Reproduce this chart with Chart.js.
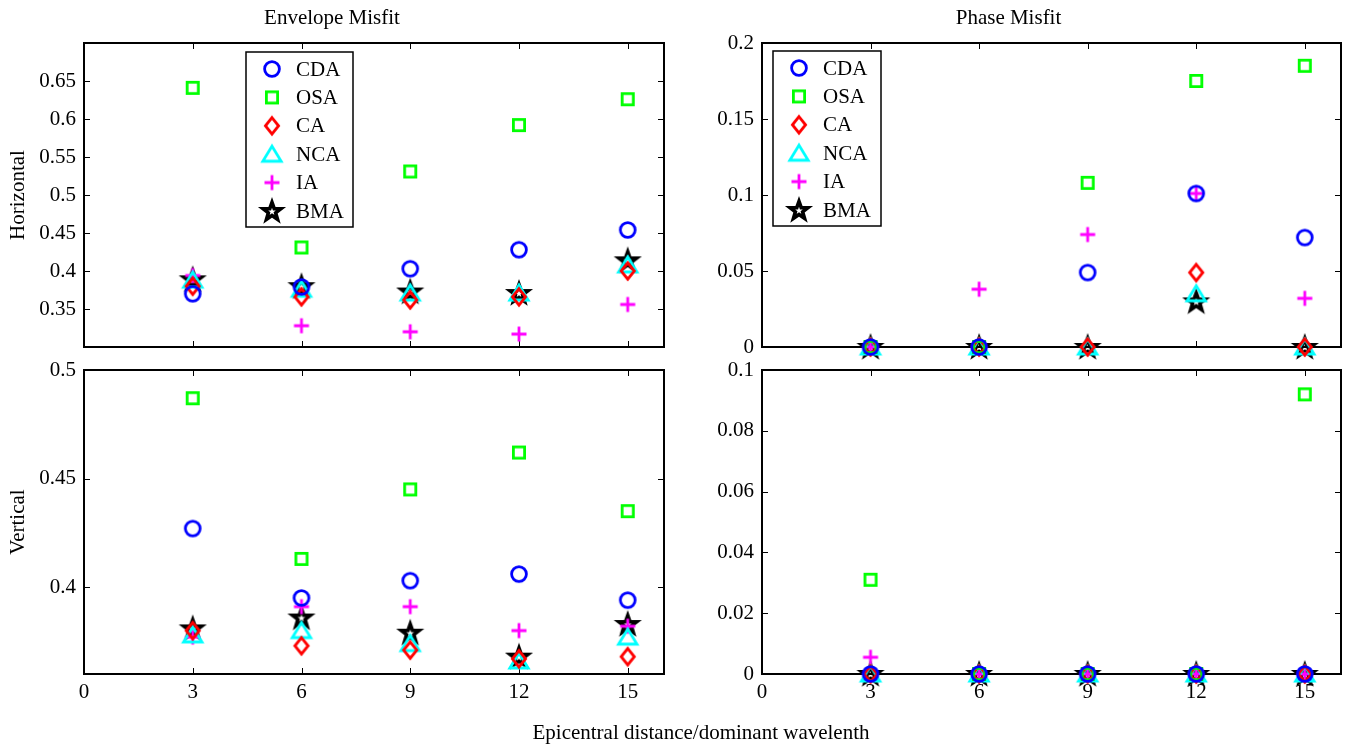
<!DOCTYPE html>
<html>
<head>
<meta charset="utf-8">
<script src="https://cdn.jsdelivr.net/npm/chart.js@4.4.0/dist/chart.umd.min.js"></script>
<style>
  body { margin: 0; background: #fff; width: 1350px; height: 749px; position: relative; overflow: hidden; }
  canvas { position: absolute; }
  #xlabel { position: absolute; left: 401px; width: 600px; top: 720px; text-align: center;
            font: 21px "Liberation Serif", serif; line-height: 24px; color: #000; }
</style>
</head>
<body>
<canvas id="envH" width="675" height="360" style="left:0;top:0"></canvas>
<canvas id="phaseH" width="675" height="360" style="left:675px;top:0"></canvas>
<canvas id="envV" width="675" height="389" style="left:0;top:360px"></canvas>
<canvas id="phaseV" width="675" height="389" style="left:675px;top:360px"></canvas>
<div id="xlabel">Epicentral distance/dominant wavelenth</div>
<script>
// data
const methods = ["CDA", "OSA", "CA", "NCA", "IA", "BMA"];
const xValues = [3, 6, 9, 12, 15];
const xTicks = [0, 3, 6, 9, 12, 15];

// envelope misfit, horizontal
const envH_CDA = [0.370, 0.379, 0.403, 0.428, 0.454];
const envH_OSA = [0.641, 0.431, 0.531, 0.592, 0.626];
const envH_CA = [0.380, 0.366, 0.362, 0.366, 0.400];
const envH_NCA = [0.388, 0.376, 0.371, 0.371, 0.408];
const envH_IA = [0.394, 0.328, 0.320, 0.317, 0.356];
const envH_BMA = [0.389, 0.380, 0.373, 0.371, 0.414];
const envH_yTicks = [0.35, 0.4, 0.45, 0.5, 0.55, 0.6, 0.65];

// phase misfit, horizontal
const phaseH_CDA = [0, 0, 0.049, 0.101, 0.072];
const phaseH_OSA = [0, 0, 0.108, 0.175, 0.185];
const phaseH_CA = [0, 0, 0, 0.049, 0];
const phaseH_NCA = [0, 0, 0, 0.035, 0];
const phaseH_IA = [0, 0.038, 0.074, 0.101, 0.032];
const phaseH_BMA = [0, 0, 0, 0.030, 0];
const phaseH_yTicks = [0, 0.05, 0.1, 0.15, 0.2];

// envelope misfit, vertical
const envV_CDA = [0.427, 0.395, 0.403, 0.406, 0.394];
const envV_OSA = [0.487, 0.413, 0.445, 0.462, 0.435];
const envV_CA = [0.380, 0.373, 0.371, 0.367, 0.368];
const envV_NCA = [0.378, 0.380, 0.374, 0.366, 0.377];
const envV_IA = [0.377, 0.391, 0.391, 0.380, 0.382];
const envV_BMA = [0.381, 0.386, 0.379, 0.368, 0.383];
const envV_yTicks = [0.4, 0.45, 0.5];

// phase misfit, vertical
const phaseV_CDA = [0, 0, 0, 0, 0];
const phaseV_OSA = [0.031, 0, 0, 0, 0.092];
const phaseV_CA = [0, 0, 0, 0, 0];
const phaseV_NCA = [0, 0, 0, 0, 0];
const phaseV_IA = [0.0055, 0, 0, 0, 0];
const phaseV_BMA = [0, 0, 0, 0, 0];
const phaseV_yTicks = [0, 0.02, 0.04, 0.06, 0.08, 0.1];

const FONT = '"Liberation Serif", "Times New Roman", serif';

// matlab style marker images
function marker(shape, color) {
  const c = document.createElement("canvas");
  c.width = 30; c.height = 30;
  const g = c.getContext("2d");
  const m = 15;
  g.strokeStyle = color;
  g.lineWidth = 2.8;
  g.miterLimit = 4;
  g.beginPath();
  if (shape === "circle") {
    g.arc(m, m, 7.4, 0, Math.PI * 2);
  } else if (shape === "square") {
    g.rect(m - 5.6, m - 5.6, 11.2, 11.2);
  } else if (shape === "diamond") {
    g.moveTo(m, m - 8.2); g.lineTo(m + 6.6, m); g.lineTo(m, m + 8.2); g.lineTo(m - 6.6, m); g.closePath();
  } else if (shape === "triangle") {
    g.moveTo(m, m - 8); g.lineTo(m + 9.2, m + 7); g.lineTo(m - 9.2, m + 7); g.closePath();
  } else if (shape === "plus") {
    g.moveTo(m - 7.5, m); g.lineTo(m + 7.5, m); g.moveTo(m, m - 7.5); g.lineTo(m, m + 7.5);
  } else if (shape === "star") {
    g.lineWidth = 3.6;
    for (let i = 0; i < 10; i++) {
      const r = i % 2 ? 3.8 : 9.4;
      const a = -Math.PI / 2 + i * Math.PI / 5;
      const px = m + r * Math.cos(a), py = m + 0.7 + r * Math.sin(a);
      if (i === 0) g.moveTo(px, py); else g.lineTo(px, py);
    }
    g.closePath();
  }
  g.stroke();
  return c;
}

const markers = [
  marker("circle", "#0000ff"),
  marker("square", "#00ff00"),
  marker("diamond", "#ff0000"),
  marker("triangle", "#00ffff"),
  marker("plus", "#ff00ff"),
  marker("star", "#000000"),
];

// box with inward ticks on all four sides
const matlabFrame = {
  id: "matlabFrame",
  beforeDatasetsDraw(chart) {
    const { ctx, chartArea: a, scales } = chart;
    const L = 6;
    ctx.save();
    ctx.strokeStyle = "#000";
    ctx.lineWidth = 1;
    ctx.beginPath();
    scales.x.ticks.forEach((t) => {
      const px = Math.round(scales.x.getPixelForValue(t.value)) + 0.5;
      ctx.moveTo(px, a.bottom); ctx.lineTo(px, a.bottom - L);
      ctx.moveTo(px, a.top); ctx.lineTo(px, a.top + L);
    });
    scales.y.ticks.forEach((t) => {
      const py = Math.round(scales.y.getPixelForValue(t.value)) + 0.5;
      ctx.moveTo(a.left, py); ctx.lineTo(a.left + L, py);
      ctx.moveTo(a.right, py); ctx.lineTo(a.right - L, py);
    });
    ctx.stroke();
    ctx.lineWidth = 2;
    ctx.strokeRect(a.left, a.top, a.right - a.left, a.bottom - a.top);
    ctx.restore();
  },
};

// boxed legend inside the axes
const boxLegend = {
  id: "boxLegend",
  afterDatasetsDraw(chart, args, o) {
    if (!o || !o.show) return;
    const ctx = chart.ctx;
    ctx.save();
    ctx.fillStyle = "#fff";
    ctx.fillRect(o.left, o.top, o.width, o.height);
    ctx.strokeStyle = "#000";
    ctx.lineWidth = 1.5;
    ctx.strokeRect(o.left, o.top, o.width, o.height);
    ctx.font = "21px " + FONT;
    ctx.fillStyle = "#000";
    ctx.textBaseline = "middle";
    chart.data.datasets.forEach((ds, i) => {
      const y = o.top + 17 + i * 28.4;
      const img = ds.pointStyle;
      ctx.drawImage(img, o.left + 26 - img.width / 2, y - img.height / 2);
      ctx.fillText(ds.label, o.left + 50, y + 1);
    });
    ctx.restore();
  },
};

function makeChart(id, seriesList, yMin, yMax, yTicks, cfg) {
  const datasets = seriesList.map((vals, i) => ({
    label: methods[i],
    data: xValues.map((x, j) => ({ x: x, y: vals[j] })),
    pointStyle: markers[i],
    pointRadius: 8,
    showLine: false,
    clip: false,
  }));
  return new Chart(document.getElementById(id), {
    type: "scatter",
    data: { datasets },
    options: {
      responsive: false,
      animation: false,
      devicePixelRatio: 1,
      layout: { padding: cfg.padding },
      plugins: {
        legend: { display: false },
        tooltip: { enabled: false },
        title: cfg.title
          ? {
              display: true,
              text: cfg.title,
              color: "#000",
              font: { family: FONT, size: 21, weight: "normal", lineHeight: 1.2 },
              padding: { top: 6, bottom: 11.8 },
            }
          : { display: false },
        boxLegend: cfg.legend || { show: false },
      },
      scales: {
        x: {
          type: "linear",
          min: 0,
          max: 16,
          grid: { display: false, drawTicks: false },
          border: { display: false },
          afterBuildTicks: (s) => { s.ticks = xTicks.map((v) => ({ value: v })); },
          afterFit: (s) => {
            s.height = cfg.xHeight;
            s.paddingLeft = 0;
            s.paddingRight = 0;
          },
          ticks: {
            display: cfg.xLabels,
            color: "#000",
            padding: 6,
            maxRotation: 0,
            font: { family: FONT, size: 21 },
          },
        },
        y: {
          min: yMin,
          max: yMax,
          grid: { display: false, drawTicks: false },
          border: { display: false },
          afterBuildTicks: (s) => { s.ticks = yTicks.map((v) => ({ value: v })); },
          afterFit: (s) => {
            s.width = cfg.yWidth;
            s.paddingTop = 0;
            s.paddingBottom = 0;
          },
          ticks: {
            color: "#000",
            padding: 8,
            font: { family: FONT, size: 21 },
            callback: (v) => String(+v.toFixed(4)),
          },
          title: cfg.yTitle
            ? {
                display: true,
                text: cfg.yTitle,
                color: "#000",
                font: { family: FONT, size: 21 },
                padding: { top: 6, bottom: 0 },
              }
            : { display: false },
        },
      },
    },
    plugins: [matlabFrame, boxLegend],
  });
}

makeChart("envH", [envH_CDA, envH_OSA, envH_CA, envH_NCA, envH_IA, envH_BMA], 0.3, 0.7, envH_yTicks, {
  title: "Envelope Misfit",
  yTitle: "Horizontal",
  padding: { left: 0, right: 11, top: 0, bottom: 0 },
  yWidth: 84,
  xHeight: 13,
  xLabels: false,
  legend: { show: true, left: 246, top: 52, width: 107, height: 175 },
});

makeChart("phaseH", [phaseH_CDA, phaseH_OSA, phaseH_CA, phaseH_NCA, phaseH_IA, phaseH_BMA], 0, 0.2, phaseH_yTicks, {
  title: "Phase Misfit",
  padding: { left: 0, right: 8, top: 0, bottom: 0 },
  yWidth: 87,
  xHeight: 13,
  xLabels: false,
  legend: { show: true, left: 98, top: 51, width: 108, height: 175 },
});

makeChart("envV", [envV_CDA, envV_OSA, envV_CA, envV_NCA, envV_IA, envV_BMA], 0.36, 0.5, envV_yTicks, {
  yTitle: "Vertical",
  padding: { left: 0, right: 11, top: 10, bottom: 0 },
  yWidth: 84,
  xHeight: 75,
  xLabels: true,
});

makeChart("phaseV", [phaseV_CDA, phaseV_OSA, phaseV_CA, phaseV_NCA, phaseV_IA, phaseV_BMA], 0, 0.1, phaseV_yTicks, {
  padding: { left: 0, right: 8, top: 10, bottom: 0 },
  yWidth: 87,
  xHeight: 75,
  xLabels: true,
});
</script>
</body>
</html>
